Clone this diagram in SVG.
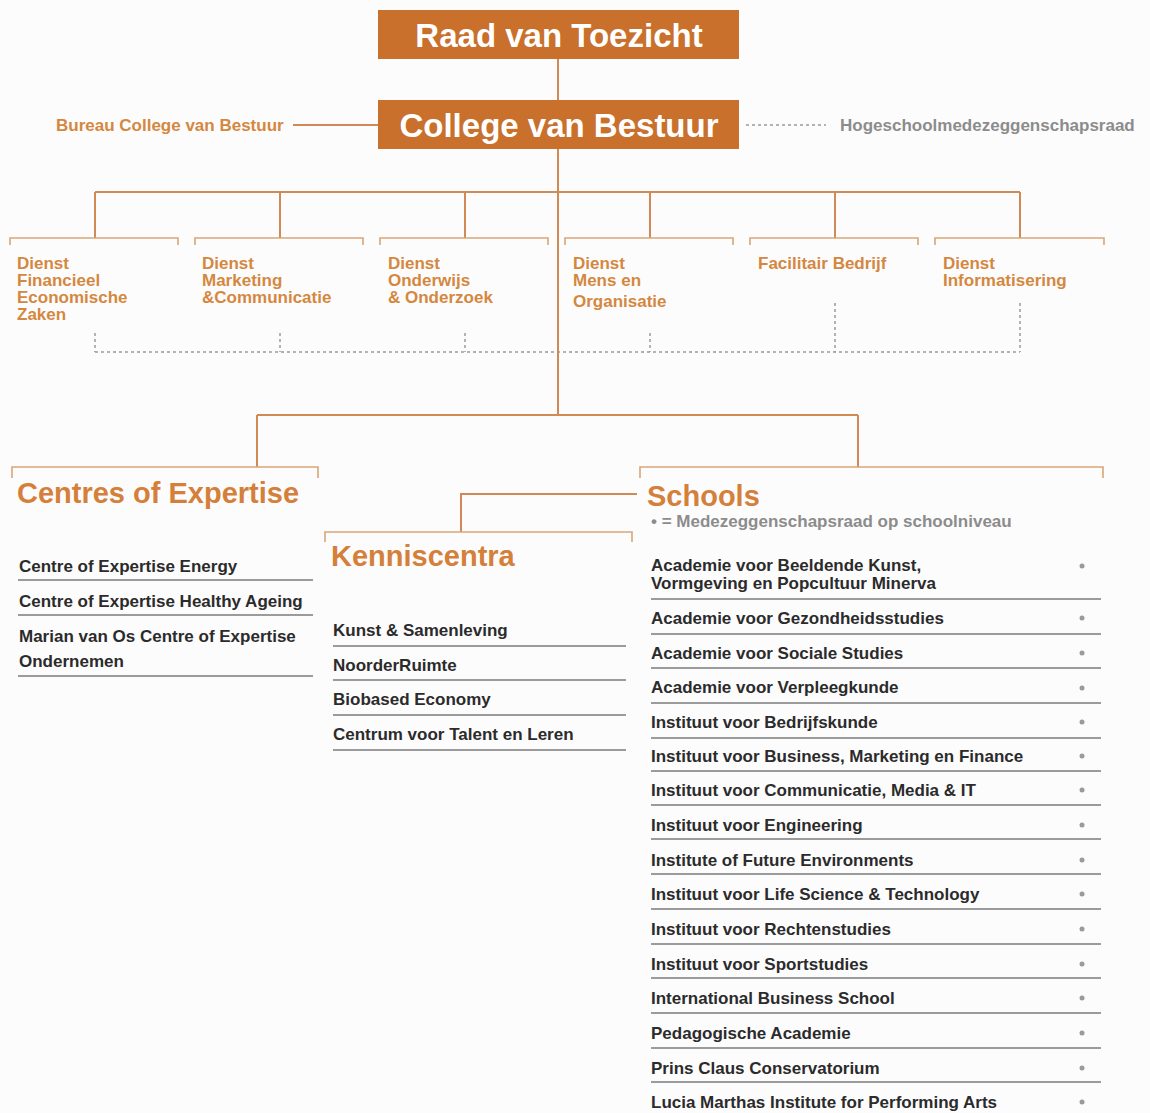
<svg xmlns="http://www.w3.org/2000/svg" width="1150" height="1113" viewBox="0 0 1150 1113">
<style>
.box{fill:#c8702c}
.boxt{font-family:"Liberation Sans",Arial,sans-serif;font-weight:bold;font-size:33px;fill:#ffffff;text-anchor:middle}
.ln{stroke:#cf8a56;stroke-width:2;fill:none}
.br{stroke:#d9a577;stroke-width:1.6;fill:none}
.dash{stroke:#9a9a9a;stroke-width:1.5;stroke-dasharray:3 3;fill:none}
.ot{font-family:"Liberation Sans",Arial,sans-serif;font-weight:bold;font-size:17px;fill:#d4883f}
.gt{font-family:"Liberation Sans",Arial,sans-serif;font-weight:bold;font-size:17px;fill:#8c8c8c}
.h{font-family:"Liberation Sans",Arial,sans-serif;font-weight:bold;font-size:29px;fill:#d4803a}
.it{font-family:"Liberation Sans",Arial,sans-serif;font-weight:bold;font-size:17px;fill:#2b2b2b}
.ul{stroke:#9b9b9b;stroke-width:2}
.dot{fill:#9a9a9a}
</style>
<rect width="1150" height="1113" fill="#fdfcfd"/>
<g id="connectors">
<path class="ln" d="M558 59V100M558 149V415"/>
<path class="ln" d="M293 125H378"/>
<path class="dash" d="M746 125H826"/>
<path class="ln" d="M95 192H1020M95 192V238M280 192V238M465 192V238M650 192V238M835 192V238M1020 192V238"/>
<path class="br" d="M10 245V238H178V245M195 245V238H363V245M380 245V238H548V245M565 245V238H733V245M750 245V238H918V245M935 245V238H1104V245"/>
<path class="dash" d="M95 333V352M280 333V352M465 333V352M650 333V352M835 303V352M1020 303V352M95 352H1020"/>
<path class="ln" d="M257 415H858M257 415V467M858 415V467"/>
<path class="br" d="M12 478V467H318V478M640 478V467H1103V478"/>
<path class="ln" d="M637 494H461V532"/>
<path class="br" d="M325 542V532H632V542"/>
</g>
<g id="raad"><rect class="box" x="378" y="10" width="361" height="49"/><text class="boxt" x="559" y="47">Raad van Toezicht</text></g>
<g id="college"><rect class="box" x="378" y="100" width="361" height="49"/><text class="boxt" x="559" y="137">College van Bestuur</text></g>
<g id="bureau"><text class="ot" x="56" y="131">Bureau College van Bestuur</text></g>
<g id="hmr"><text class="gt" x="840" y="131">Hogeschoolmedezeggenschapsraad</text></g>
<g id="dfez"><text class="ot" x="17" y="269"><tspan x="17">Dienst</tspan><tspan x="17" dy="17">Financieel</tspan><tspan x="17" dy="17">Economische</tspan><tspan x="17" dy="17">Zaken</tspan></text></g>
<g id="dmc"><text class="ot" x="202" y="269"><tspan x="202">Dienst</tspan><tspan x="202" dy="17">Marketing</tspan><tspan x="202" dy="17">&amp;Communicatie</tspan></text></g>
<g id="doo"><text class="ot" x="388" y="269"><tspan x="388">Dienst</tspan><tspan x="388" dy="17">Onderwijs</tspan><tspan x="388" dy="17">&amp; Onderzoek</tspan></text></g>
<g id="dmo"><text class="ot" x="573" y="269"><tspan x="573">Dienst</tspan><tspan x="573" dy="17">Mens en</tspan><tspan x="573" dy="21">Organisatie</tspan></text></g>
<g id="fb"><text class="ot" x="758" y="269">Facilitair Bedrijf</text></g>
<g id="di"><text class="ot" x="943" y="269"><tspan x="943">Dienst</tspan><tspan x="943" dy="17">Informatisering</tspan></text></g>
<g id="coe">
<text class="h" x="17" y="503">Centres of Expertise</text>
<text class="it" x="19" y="572">Centre of Expertise Energy</text>
<line class="ul" x1="18" y1="580" x2="313" y2="580"/>
<text class="it" x="19" y="607">Centre of Expertise Healthy Ageing</text>
<line class="ul" x1="18" y1="615" x2="313" y2="615"/>
<text class="it" x="19" y="642">Marian van Os Centre of Expertise</text>
<text class="it" x="19" y="667">Ondernemen</text>
<line class="ul" x1="18" y1="676" x2="313" y2="676"/>
</g>
<g id="kenniscentra">
<text class="h" x="331" y="566">Kenniscentra</text>
<text class="it" x="333" y="636">Kunst &amp; Samenleving</text>
<line class="ul" x1="333" y1="646" x2="626" y2="646"/>
<text class="it" x="333" y="671">NoorderRuimte</text>
<line class="ul" x1="333" y1="680" x2="626" y2="680"/>
<text class="it" x="333" y="705">Biobased Economy</text>
<line class="ul" x1="333" y1="715" x2="626" y2="715"/>
<text class="it" x="333" y="740">Centrum voor Talent en Leren</text>
<line class="ul" x1="333" y1="750" x2="626" y2="750"/>
</g>
<g id="schools">
<text class="h" x="647" y="506">Schools</text>
<text class="gt" x="651" y="527">• = Medezeggenschapsraad op schoolniveau</text>
<text class="it" x="651" y="571">Academie voor Beeldende Kunst,</text>
<text class="it" x="651" y="589">Vormgeving en Popcultuur Minerva</text>
<circle class="dot" cx="1082" cy="566" r="2.5"/>
<line class="ul" x1="651" y1="599" x2="1101" y2="599"/>
<text class="it" x="651" y="624">Academie voor Gezondheidsstudies</text>
<circle class="dot" cx="1082" cy="618" r="2.5"/>
<line class="ul" x1="651" y1="634" x2="1101" y2="634"/>
<text class="it" x="651" y="659">Academie voor Sociale Studies</text>
<circle class="dot" cx="1082" cy="653" r="2.5"/>
<line class="ul" x1="651" y1="668" x2="1101" y2="668"/>
<text class="it" x="651" y="693">Academie voor Verpleegkunde</text>
<circle class="dot" cx="1082" cy="688" r="2.5"/>
<line class="ul" x1="651" y1="703" x2="1101" y2="703"/>
<text class="it" x="651" y="728">Instituut voor Bedrijfskunde</text>
<circle class="dot" cx="1082" cy="722" r="2.5"/>
<line class="ul" x1="651" y1="738" x2="1101" y2="738"/>
<text class="it" x="651" y="762">Instituut voor Business, Marketing en Finance</text>
<circle class="dot" cx="1082" cy="756" r="2.5"/>
<line class="ul" x1="651" y1="771" x2="1101" y2="771"/>
<text class="it" x="651" y="796">Instituut voor Communicatie, Media &amp; IT</text>
<circle class="dot" cx="1082" cy="790" r="2.5"/>
<line class="ul" x1="651" y1="805" x2="1101" y2="805"/>
<text class="it" x="651" y="831">Instituut voor Engineering</text>
<circle class="dot" cx="1082" cy="825" r="2.5"/>
<line class="ul" x1="651" y1="839" x2="1101" y2="839"/>
<text class="it" x="651" y="866">Institute of Future Environments</text>
<circle class="dot" cx="1082" cy="860" r="2.5"/>
<line class="ul" x1="651" y1="874" x2="1101" y2="874"/>
<text class="it" x="651" y="900">Instituut voor Life Science &amp; Technology</text>
<circle class="dot" cx="1082" cy="894" r="2.5"/>
<line class="ul" x1="651" y1="909" x2="1101" y2="909"/>
<text class="it" x="651" y="935">Instituut voor Rechtenstudies</text>
<circle class="dot" cx="1082" cy="929" r="2.5"/>
<line class="ul" x1="651" y1="944" x2="1101" y2="944"/>
<text class="it" x="651" y="970">Instituut voor Sportstudies</text>
<circle class="dot" cx="1082" cy="964" r="2.5"/>
<line class="ul" x1="651" y1="978" x2="1101" y2="978"/>
<text class="it" x="651" y="1004">International Business School</text>
<circle class="dot" cx="1082" cy="998" r="2.5"/>
<line class="ul" x1="651" y1="1013" x2="1101" y2="1013"/>
<text class="it" x="651" y="1039">Pedagogische Academie</text>
<circle class="dot" cx="1082" cy="1033" r="2.5"/>
<line class="ul" x1="651" y1="1048" x2="1101" y2="1048"/>
<text class="it" x="651" y="1074">Prins Claus Conservatorium</text>
<circle class="dot" cx="1082" cy="1068" r="2.5"/>
<line class="ul" x1="651" y1="1082" x2="1101" y2="1082"/>
<text class="it" x="651" y="1108">Lucia Marthas Institute for Performing Arts</text>
<circle class="dot" cx="1082" cy="1102" r="2.5"/>
</g>
</svg>
